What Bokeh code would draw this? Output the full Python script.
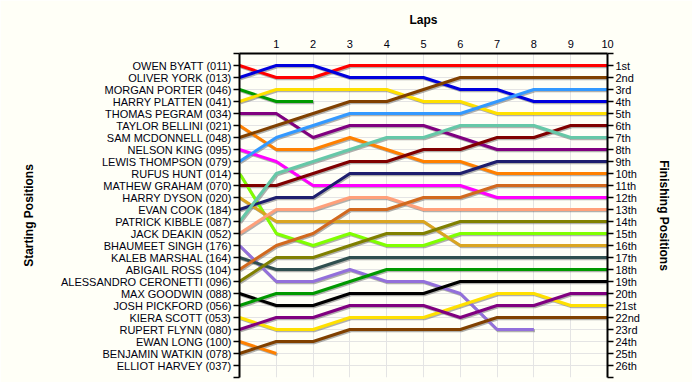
from bokeh.plotting import figure
from bokeh.models import Range1d, LinearAxis, FixedTicker
from bokeh.embed import file_html
from bokeh.resources import INLINE

# Starting grid order (positions 1..26)
drivers = [
    "OWEN BYATT (011)", "OLIVER YORK (013)", "MORGAN PORTER (046)", "HARRY PLATTEN (041)",
    "THOMAS PEGRAM (034)", "TAYLOR BELLINI (021)", "SAM MCDONNELL (048)", "NELSON KING (095)",
    "LEWIS THOMPSON (079)", "RUFUS HUNT (014)", "MATHEW GRAHAM (070)", "HARRY DYSON (020)",
    "EVAN COOK (184)", "PATRICK KIBBLE (087)", "JACK DEAKIN (052)", "BHAUMEET SINGH (176)",
    "KALEB MARSHAL (164)", "ABIGAIL ROSS (104)", "ALESSANDRO CERONETTI (096)", "MAX GOODWIN (088)",
    "JOSH PICKFORD (056)", "KIERA SCOTT (053)", "RUPERT FLYNN (080)", "EWAN LONG (100)",
    "BENJAMIN WATKIN (078)", "ELLIOT HARVEY (037)",
]

finish_labels = [
    "1st", "2nd", "3rd", "4th", "5th", "6th", "7th", "8th", "9th", "10th", "11th", "12th", "13th",
    "14th", "15th", "16th", "17th", "18th", "19th", "20th", "21st", "22nd", "23rd", "24th", "25th", "26th",
]

laps = [0, 1, 2, 3, 4, 5, 6, 7, 8, 9, 10]

# Position after each lap (lap 0 = grid position)
owen_byatt = [1, 2, 2, 1, 1, 1, 1, 1, 1, 1, 1]
oliver_york = [2, 1, 1, 2, 2, 2, 3, 3, 4, 4, 4]
morgan_porter = [3, 4, 4]
harry_platten = [4, 3, 3, 3, 3, 4, 4, 5, 5, 5, 5]
thomas_pegram = [5, 5, 7, 6, 6, 6, 7, 8, 8, 8, 8]
taylor_bellini = [6, 8, 8, 7, 8, 9, 9, 10, 10, 10, 10]
sam_mcdonnell = [7, 6, 5, 4, 4, 3, 2, 2, 2, 2, 2]
nelson_king = [8, 9, 11, 11, 11, 11, 11, 12, 12, 12, 12]
lewis_thompson = [9, 7, 6, 5, 5, 5, 5, 4, 3, 3, 3]
rufus_hunt = [10, 15, 16, 15, 16, 16, 15, 15, 15, 15, 15]
mathew_graham = [11, 11, 10, 9, 9, 8, 8, 7, 7, 6, 6]
harry_dyson = [12, 14, 14, 14, 14, 14, 16, 16, 16, 16, 16]
evan_cook = [13, 12, 12, 10, 10, 10, 10, 9, 9, 9, 9]
patrick_kibble = [14, 10, 9, 8, 7, 7, 6, 6, 6, 7, 7]
jack_deakin = [15, 13, 13, 12, 12, 13, 13, 13, 13, 13, 13]
bhaumeet_singh = [16, 19, 19, 18, 19, 19, 20, 23, 23]
kaleb_marshal = [17, 18, 18, 17, 17, 17, 17, 17, 17, 17, 17]
abigail_ross = [18, 16, 15, 13, 13, 12, 12, 11, 11, 11, 11]
alessandro_ceronetti = [19, 17, 17, 16, 15, 15, 14, 14, 14, 14, 14]
max_goodwin = [20, 21, 21, 20, 20, 20, 19, 19, 19, 19, 19]
josh_pickford = [21, 20, 20, 19, 18, 18, 18, 18, 18, 18, 18]
kiera_scott = [22, 23, 23, 22, 22, 22, 21, 20, 20, 21, 21]
rupert_flynn = [23, 22, 22, 21, 21, 21, 22, 21, 21, 20, 20]
ewan_long = [24, 25]
benjamin_watkin = [25, 24, 24, 23, 23, 23, 23, 22, 22, 22, 22]

series = [
    (owen_byatt, "#FF0000"), (oliver_york, "#0000DD"), (morgan_porter, "#009900"),
    (harry_platten, "#FFE000"), (thomas_pegram, "#800080"), (taylor_bellini, "#FF8000"),
    (sam_mcdonnell, "#804000"), (nelson_king, "#FF00FF"), (lewis_thompson, "#3399FF"),
    (rufus_hunt, "#80FF00"), (mathew_graham, "#800000"), (harry_dyson, "#DAA520"),
    (evan_cook, "#1E1E6E"), (patrick_kibble, "#66C8A8"), (jack_deakin, "#FFA07A"),
    (bhaumeet_singh, "#9370DB"), (kaleb_marshal, "#2F4F4F"), (abigail_ross, "#D2691E"),
    (alessandro_ceronetti, "#808000"), (max_goodwin, "#000000"), (josh_pickford, "#009900"),
    (kiera_scott, "#FFE000"), (rupert_flynn, "#800080"), (ewan_long, "#FF8000"),
    (benjamin_watkin, "#804000"),
]

BG = "#FFFFF7"
FONT = "Liberation Sans"
n_pos = len(drivers)

p = figure(
    width=692, height=382, output_backend="svg", toolbar_location=None,
    x_range=Range1d(0, 10), y_range=Range1d(n_pos + 1, 0),
    x_axis_location="above",
    min_border_left=239, min_border_right=85, min_border_top=53, min_border_bottom=5,
    background_fill_color=BG, border_fill_color=BG, outline_line_color=None,
)

# grid
p.xgrid.ticker = FixedTicker(ticks=laps[1:])
p.ygrid.ticker = FixedTicker(ticks=list(range(1, n_pos + 1)))
p.xgrid.grid_line_color = "#E4E4E4"
p.ygrid.grid_line_color = "#E4E4E4"

# lines with a soft shadow
for pos, col in series:
    xs = laps[:len(pos)]
    p.line([x + 0.03 for x in xs], [y + 0.11 for y in pos], line_color="#707070",
           line_alpha=0.55, line_width=3)
for pos, col in series:
    xs = laps[:len(pos)]
    p.line(xs, pos, line_color=col, line_width=3)

# top axis (laps)
xa = p.xaxis[0]
xa.ticker = FixedTicker(ticks=laps)
xa.major_label_overrides = {0: ""}
xa.axis_label = "Laps"

# left axis (starting positions)
ya = p.yaxis[0]
ya.ticker = FixedTicker(ticks=list(range(0, n_pos + 2)))
left_over = {0: "", n_pos + 1: ""}
for i, name in enumerate(drivers):
    left_over[i + 1] = name
ya.major_label_overrides = left_over
ya.axis_label = "Starting Positions"

# right axis (finishing positions)
ra = LinearAxis(ticker=FixedTicker(ticks=list(range(0, n_pos + 2))))
right_over = {0: "", n_pos + 1: ""}
for i, lab in enumerate(finish_labels):
    right_over[i + 1] = lab
ra.major_label_overrides = right_over
ra.axis_label = "Finishing Positions"
p.add_layout(ra, "right")

for ax in (xa, ya, ra):
    ax.axis_line_color = "black"
    ax.axis_line_width = 2
    ax.major_tick_line_color = "black"
    ax.major_tick_line_width = 1.5
    ax.minor_tick_line_color = None
    ax.major_label_text_font = FONT
    ax.major_label_text_font_size = "11px"
    ax.major_label_text_color = "#000010"
    ax.axis_label_text_font = FONT
    ax.axis_label_text_font_size = "12px"
    ax.axis_label_text_font_style = "bold"
    ax.axis_label_text_color = "black"

xa.major_tick_out = 0
xa.major_tick_in = 0
xa.major_label_standoff = 6
xa.axis_label_standoff = 10

ya.major_tick_out = 6
ya.major_tick_in = 0
ya.major_label_standoff = 2
ya.axis_label_standoff = 22

ra.major_tick_out = 6
ra.major_tick_in = 0
ra.major_label_standoff = 2
ra.axis_label_standoff = 14

open("out.html", "w").write(file_html(p, INLINE))
